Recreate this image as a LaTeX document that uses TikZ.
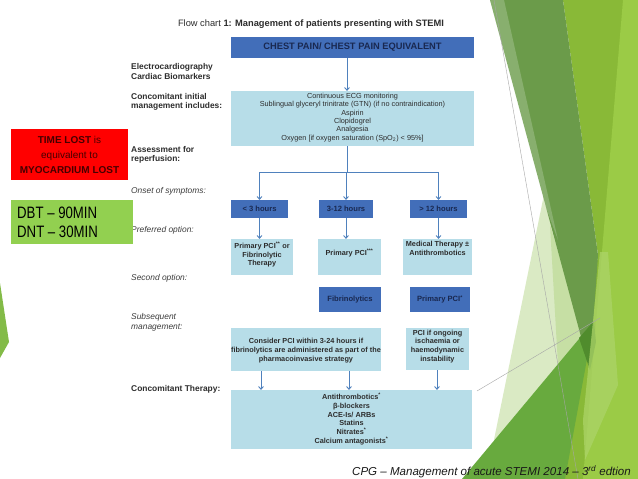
\documentclass[tikz,border=0pt]{standalone}
\usepackage{fontspec}
\setmainfont{Liberation Sans}
\usetikzlibrary{arrows.meta}
\newcommand\fsz[2]{\fontsize{#1}{#2}\selectfont}
\definecolor{dkblue}{RGB}{66,110,185}
\definecolor{ltblue}{RGB}{183,221,232}
\definecolor{navytxt}{RGB}{25,40,80}
\definecolor{txtgray}{RGB}{45,45,45}
\definecolor{lblgray}{RGB}{60,60,60}
\definecolor{arrblue}{RGB}{79,129,189}
\definecolor{redtxt}{RGB}{70,0,0}
\definecolor{dbtgreen}{RGB}{146,208,80}
\definecolor{gdark}{RGB}{107,155,74}
\definecolor{gyellow}{RGB}{137,185,55}
\definecolor{glight}{RGB}{155,203,70}
\definecolor{gmid}{RGB}{104,170,62}
\definecolor{gpale}{RGB}{218,234,196}
\definecolor{gpale2}{RGB}{198,223,164}
\definecolor{gwedge}{RGB}{172,212,104}
\definecolor{gover}{RGB}{80,140,45}
\begin{document}
\begin{tikzpicture}[x=1pt,y=-1pt,
  dbox/.style={fill=dkblue, draw=none, inner sep=0, text=navytxt, font=\fsz{7.6}{9}\bfseries, align=center},
  lbox/.style={fill=ltblue, draw=none, inner sep=0},
  btxt/.style={font=\fsz{7.3}{8.8}\bfseries, text=txtgray, align=center, inner sep=0},
  rtxt/.style={font=\fsz{7.3}{8.4}\selectfont, text=txtgray, align=center, inner sep=0},
  lblb/.style={font=\fsz{8.4}{9.6}\bfseries, text=txtgray, align=left, anchor=west, inner sep=0},
  lbli/.style={font=\fsz{8.4}{9.8}\itshape, text=lblgray, align=left, anchor=west, inner sep=0},
  conn/.style={draw=arrblue, line width=0.9pt},
  arr/.style={conn, -{Straight Barb[length=2.6pt,width=5pt]}},
  gline/.style={draw=black!35, line width=0.4pt}]
\useasboundingbox (0,0) rectangle (638,479);
\fill[white] (0,0) rectangle (638,479);

% ---- theme decoration (right side) ----
\fill[gpale] (548,175) -- (590,370) -- (570,479) -- (486,479) -- cycle;
\fill[gpale2] (550,225) -- (588,350) -- (560,400) -- cycle;
\fill[gyellow] (563,0) -- (638,0) -- (638,479) -- (563,479) -- (598,255) -- cycle;
\fill[glight] (623,0) -- (638,0) -- (638,479) -- (583,479) -- cycle;
\fill[gdark] (490,0) -- (563,0) -- (598,255) -- (590,370) -- cycle;
\fill[white, opacity=0.2] (490,0) -- (504,0) -- (558,240) -- (543,200) -- cycle;
\fill[gmid] (462,479) -- (594,321) -- (565,479) -- cycle;
\fill[gover] (579,338) -- (594,321) -- (596,342) -- (590,370) -- cycle;
\fill[gwedge, opacity=0.75] (600,252) -- (608,252) -- (618,385) -- (585,460) -- (583,420) -- cycle;
\fill[dbtgreen!90!black] (0,283) -- (9,342) -- (0,358) -- cycle;
\draw[gline] (494,0) -- (578,479);
\draw[gline] (477,391) -- (600,318);

% ---- title ----
\node[font=\fsz{9.3}{11}\selectfont, text=txtgray, inner sep=0] (title) at (311,24)
  {Flow chart \textbf{1: Management of patients presenting with STEMI}};

% ---- left labels ----
\node[lblb] (l1) at (131,71.5) {Electrocardiography\\Cardiac Biomarkers};
\node[lblb] (l2) at (131,102) {Concomitant initial\\management includes:};
\node[lblb] (l3) at (131,155) {Assessment for\\reperfusion:};
\node[lbli] (l4) at (131,191) {Onset of symptoms:};
\node[lbli] (l5) at (131,230) {Preferred option:};
\node[lbli] (l6) at (131,278) {Second option:};
\node[lbli] (l7) at (131,322) {Subsequent\\management:};
\node[lblb] (l8) at (131,389) {Concomitant Therapy:};

% ---- side boxes ----
\node[fill=red, minimum width=117pt, minimum height=51pt, inner sep=0, align=center,
      font=\fsz{10}{15}\selectfont, text=redtxt] (redbox) at (69.5,154.5)
  {\textbf{TIME LOST} is\\equivalent to\\\textbf{MYOCARDIUM LOST}};
\node[fill=dbtgreen, minimum width=122pt, minimum height=44pt, inner sep=0] (dbt) at (72,222) {};
\node[anchor=west, align=left, inner sep=0, font=\fsz{16.5}{19}\selectfont, text=black] (dbtt) at (17,222.5)
  {\scalebox{0.8}[1]{DBT -- 90MIN}\\\scalebox{0.8}[1]{DNT -- 30MIN}};

% ---- flow chart boxes ----
\node[dbox, minimum width=243pt, minimum height=21pt, font=\fsz{9.3}{11}\bfseries] (top) at (352.5,47.5)
  {CHEST PAIN/ CHEST PAIN EQUIVALENT};
\node[lbox, minimum width=243pt, minimum height=55pt] (init) at (352.5,118.5) {};
\node[rtxt] (initt) at (352.5,117.5) {Continuous ECG monitoring\\Sublingual glyceryl trinitrate (GTN) (if no contraindication)\\Aspirin\\Clopidogrel\\Analgesia\\Oxygen [if oxygen saturation (SpO\textsubscript{2}) {<} 95\%]};

\node[dbox, minimum width=57pt, minimum height=18pt] (h1) at (259.5,209) {{<} 3 hours};
\node[dbox, minimum width=54pt, minimum height=18pt] (h2) at (346,209) {3-12 hours};
\node[dbox, minimum width=57pt, minimum height=18pt] (h3) at (438.5,209) {{>} 12 hours};

\node[lbox, minimum width=62pt, minimum height=36pt] (p1) at (262,257) {};
\node[btxt] (p1t) at (262,254.5) {Primary PCI\textsuperscript{**} or\\Fibrinolytic\\Therapy};
\node[lbox, minimum width=63pt, minimum height=36pt] (p2) at (349.5,257) {};
\node[btxt] (p2t) at (349.5,253) {Primary PCI\textsuperscript{***}};
\node[lbox, minimum width=69pt, minimum height=36pt] (p3) at (437.5,257) {};
\node[btxt] (p3t) at (437.5,248) {Medical Therapy \textpm\\Antithrombotics};

\node[dbox, minimum width=62pt, minimum height=25pt] (s2) at (350,299.5) {Fibrinolytics};
\node[dbox, minimum width=60pt, minimum height=25pt] (s3) at (440,299.5) {Primary PCI\textsuperscript{*}};

\node[lbox, minimum width=150pt, minimum height=43pt] (c1) at (306,349.5) {};
\node[btxt] (c1t) at (306,350.5) {Consider PCI within 3-24 hours if\\fibrinolytics are administered as part of the\\pharmacoinvasive strategy};
\node[lbox, minimum width=63pt, minimum height=42pt] (c2) at (437.5,349) {};
\node[btxt] (c2t) at (437.5,346.5) {PCI if ongoing\\ischaemia or\\haemodynamic\\instability};

\node[lbox, minimum width=241pt, minimum height=59pt] (ct) at (351.5,419.5) {};
\node[btxt] (ctt) at (351.5,419) {Antithrombotics\textsuperscript{*}\\β-blockers\\ACE-Is/ ARBs\\Statins\\Nitrates\textsuperscript{*}\\Calcium antagonists\textsuperscript{*}};

% ---- connectors ----
\coordinate (j) at (347,172);
\coordinate (a1) at (261,0);
\coordinate (a2) at (349,0);
\coordinate (a3) at (437,0);
\draw[arr] (top.south -| j) -- (init.north -| j);
\draw[conn] (init.south -| j) -- (j);
\draw[conn] (h1.north |- j) -- (h3.north |- j);
\draw[arr] (h1.north |- j) -- (h1.north);
\draw[arr] (h2.north |- j) -- (h2.north);
\draw[arr] (h3.north |- j) -- (h3.north);
\draw[arr] (h1.south) -- (h1.south |- p1.north);
\draw[arr] (h2.south) -- (h2.south |- p2.north);
\draw[arr] (h3.south) -- (h3.south |- p3.north);
\draw[arr] (c1.south -| a1) -- (ct.north -| a1);
\draw[arr] (c1.south -| a2) -- (ct.north -| a2);
\draw[arr] (c2.south -| a3) -- (ct.north -| a3);

% ---- footer ----
\node[anchor=west, inner sep=0, font=\fsz{11.55}{14}\itshape, text=black!90] (foot) at (352,472)
  {CPG -- Management of acute STEMI 2014 -- 3\textsuperscript{rd} edtion};
\end{tikzpicture}
\end{document}
